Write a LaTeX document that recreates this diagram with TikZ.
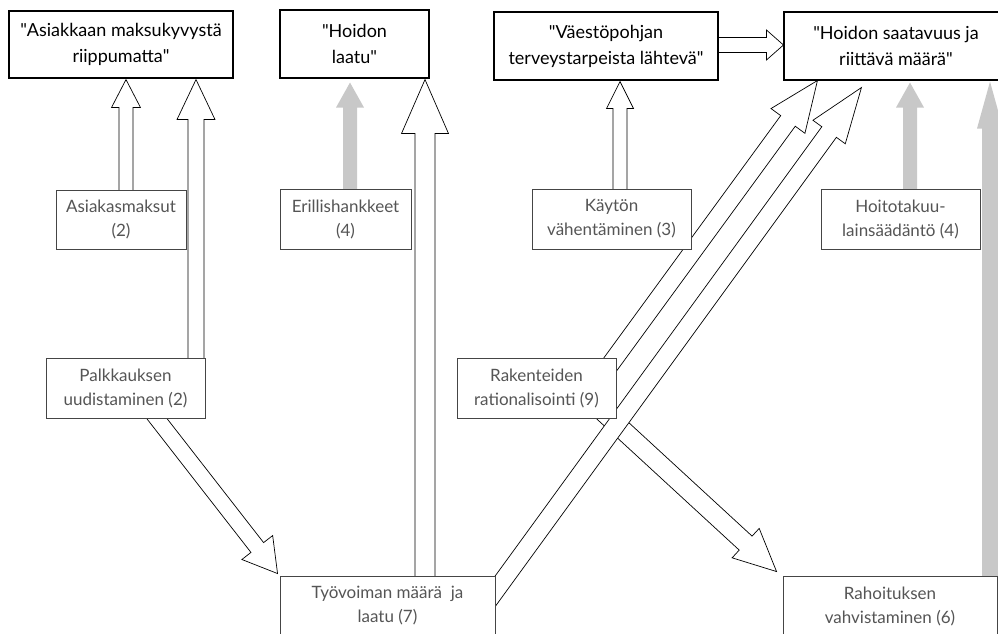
\documentclass[tikz,border=0pt]{standalone}
\usepackage{fontspec}
\setmainfont{Lato}
\newfontfamily\quotefont{Lato}
\usetikzlibrary{calc, positioning}
\usepackage{xcolor}

\definecolor{boxline}{HTML}{454545}
\definecolor{txtgray}{HTML}{555555}
\definecolor{arrowgray}{HTML}{C8C8C8}

\pgfdeclarelayer{background}
\pgfsetlayers{background,main}

\newcommand{\qmark}{{\quotefont"}}

% block arrow: [style]{from}{to}{shaft half width}{head half width}{head length}
\newcommand{\blockarrow}[6][whitearrow]{%
  \coordinate (hb) at ($(#3)!#6!(#2)$);
  \filldraw[#1] ($(#2)!#4!90:(#3)$) -- ($(hb)!#4!90:(#3)$) -- ($(hb)!#5!90:(#3)$)
    -- (#3) -- ($(hb)!#5!-90:(#3)$) -- ($(hb)!#4!-90:(#3)$) -- ($(#2)!#4!-90:(#3)$) -- cycle;
}

\begin{document}
\begin{tikzpicture}[
    x=1pt, y=-1pt,
    goalbox/.style={rectangle, draw=black, line width=1.1pt, fill=white, minimum height=68pt, inner sep=0pt, align=center, font=\fontsize{18pt}{26pt}\selectfont},
    actbox/.style={rectangle, draw=boxline, line width=0.9pt, fill=white, minimum height=60pt, inner sep=0pt, align=center, text=txtgray, font=\fontsize{17pt}{24pt}\selectfont},
    whitearrow/.style={fill=white, draw=black, line width=0.7pt, line join=miter},
    grayarrow/.style={fill=arrowgray, draw=none}
]
    \useasboundingbox (0,0) rectangle (998,634);

    % Goals
    \node[goalbox, minimum width=224pt, minimum height=67pt] (goal1) at (121, 44.5) {\qmark Asiakkaan maksukyvystä\\riippumatta\qmark};
    \node[goalbox, minimum width=149pt] (goal2) at (354.5, 44) {\qmark Hoidon\\laatu\qmark};
    \node[goalbox, minimum width=224pt] (goal3) at (606, 46) {\qmark Väestöpohjan\\terveystarpeista lähtevä\qmark};
    \node[goalbox, minimum width=224pt] (goal4) at (896, 46) {\qmark Hoidon saatavuus ja\\riittävä määrä\qmark};

    % Means, upper row
    \node[actbox, minimum width=130pt, minimum height=59pt] (maksut) at (121, 219.5) {Asiakasmaksut\\(2)};
    \node[actbox, minimum width=131pt] (hankkeet) at (345.5, 219) {Erillishankkeet\\(4)};
    \node[actbox, minimum width=159pt] (kaytto) at (611.5, 219) {Käytön\\vähentäminen (3)};
    \node[actbox, minimum width=159pt] (takuu) at (900.5, 219) {Hoitotakuu-\\lainsäädäntö (4)};

    % Means, middle row
    \node[actbox, minimum width=159pt] (palkka) at (125.5, 388) {Palkkauksen\\uudistaminen (2)};
    \node[actbox, minimum width=159pt] (rakenne) at (536.5, 388) {Rakenteiden\\rationalisointi (9)};

    % Means, lower row
    \node[actbox, minimum width=215pt] (tyovoima) at (387.5, 606) {Työvoiman määrä~ ja\\laatu (7)};
    \node[actbox, minimum width=214pt] (rahoitus) at (890, 606) {Rahoituksen\\vahvistaminen (6)};

    \begin{pgfonlayer}{background}
    % Arrows to goal 1
    \coordinate (a1s) at ($(maksut.north)+(5,10)$);
    \coordinate (a1e) at ($(goal1.south)+(5,1)$);
    \blockarrow{a1s}{a1e}{7pt}{14.5pt}{28pt}
    \coordinate (a2s) at ($(palkka.north)+(70.5,12)$);
    \coordinate (a2e) at ($(goal1.south)+(75,1)$);
    \blockarrow{a2s}{a2e}{8pt}{19pt}{40pt}

    % Arrows to goal 2
    \coordinate (a3s) at ($(hankkeet.north)+(4.5,11)$);
    \coordinate (a3e) at ($(goal2.south)+(-4.5,4)$);
    \blockarrow[grayarrow]{a3s}{a3e}{7pt}{14pt}{25pt}
    \coordinate (a4s) at ($(tyovoima.north)+(37.5,14)$);
    \coordinate (a4e) at ($(goal2.south)+(70.5,1)$);
    \blockarrow{a4s}{a4e}{10pt}{23.5pt}{54pt}

    % Arrows to goal 3 and goal 4
    \coordinate (a5s) at ($(kaytto.north)+(8.5,11)$);
    \coordinate (a5e) at ($(goal3.south)+(14,1)$);
    \blockarrow{a5s}{a5e}{7pt}{13.5pt}{27pt}
    \coordinate (a6s) at ($(goal3.east)+(-5,-1)$);
    \coordinate (a6e) at ($(goal4.west)+(0,-1)$);
    \blockarrow{a6s}{a6e}{7.5pt}{15pt}{17pt}
    \coordinate (a7s) at ($(takuu.north)+(9.5,11)$);
    \coordinate (a7e) at ($(goal4.south)+(14,2)$);
    \blockarrow[grayarrow]{a7s}{a7e}{7pt}{14pt}{25pt}
    \coordinate (a8s) at ($(rahoitus.north)+(100,14)$);
    \coordinate (a8e) at ($(goal4.south)+(94,1)$);
    \blockarrow[grayarrow]{a8s}{a8e}{8pt}{13pt}{47pt}
    \coordinate (a9s) at ($(rakenne.north east)+(-10,12)$);
    \coordinate (a9e) at ($(goal4.south west)+(34,0)$);
    \blockarrow{a9s}{a9e}{9pt}{21pt}{50pt}

    % Diagonal arrows below
    \coordinate (a10s) at ($(rakenne.south east)+(-16,-9)$);
    \coordinate (a10e) at ($(rahoitus.north west)+(-6,-4)$);
    \blockarrow{a10s}{a10e}{9.5pt}{20pt}{42pt}
    \coordinate (a11s) at ($(palkka.south)+(23.5,-10)$);
    \coordinate (a11e) at ($(tyovoima.north west)+(-2,-2)$);
    \blockarrow{a11s}{a11e}{8pt}{19.5pt}{33pt}
    \coordinate (a12s) at ($(tyovoima.east)+(-11,0)$);
    \coordinate (a12e) at ($(goal4.south west)+(78,7)$);
    \blockarrow{a12s}{a12e}{9pt}{20pt}{55pt}
    \end{pgfonlayer}
\end{tikzpicture}
\end{document}
